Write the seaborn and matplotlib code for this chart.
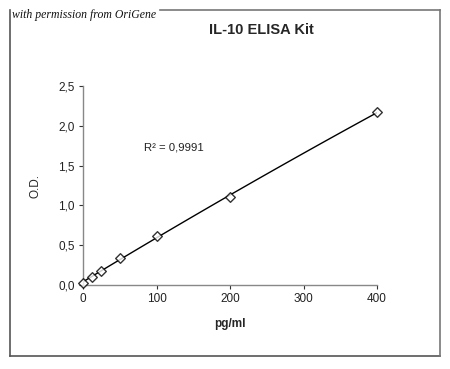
import matplotlib
matplotlib.use("Agg")
import matplotlib.pyplot as plt
import seaborn as sns
import numpy as np
import pandas as pd
from matplotlib.lines import Line2D
from matplotlib.ticker import FuncFormatter

conc = [0, 12.5, 25, 50, 100, 200, 400]
od = [0.025, 0.10, 0.18, 0.34, 0.615, 1.105, 2.17]
x_ticks = [0, 100, 200, 300, 400]
y_ticks = [0.0, 0.5, 1.0, 1.5, 2.0, 2.5]
title = "IL-10 ELISA Kit"
credit = "with permission from OriGene"
r2_text = "R\u00b2 = 0,9991"

df = pd.DataFrame({"pg/ml": conc, "O.D.": od})

sns.set_style("white")
plt.rcParams['font.family'] = ['Liberation Sans', 'DejaVu Sans']

W, H = 450, 369
fig = plt.figure(figsize=(4.5, 3.69), dpi=100)
fig.patch.set_facecolor("white")

def fline(xs, ys, color="#555555", lw=1.2):
    fig.lines.append(Line2D([x / W for x in xs], [1 - y / H for y in ys],
                            transform=fig.transFigure, color=color, linewidth=lw,
                            solid_capstyle="projecting"))

# outer frame (top edge interrupted by the credit text)
fline([10, 10], [10, 356])
fline([10, 440], [356, 356])
fline([440, 440], [10, 356], color="#777777")
fline([160, 440], [10, 10], color="#777777")

ax = fig.add_axes([83/W, 1-285/H, 294/W, 199/H])

sns.regplot(data=df, x="pg/ml", y="O.D.", order=2, ci=None, ax=ax,
            marker="D",
            scatter_kws=dict(s=24, facecolors="white", edgecolors="black", linewidths=1.0, zorder=3),
            line_kws=dict(color="black", linewidth=1.0))

ax.set_xlim(0, 400)
ax.set_ylim(0, 2.5)
ax.set_xticks(x_ticks)
ax.set_yticks(y_ticks)
ax.yaxis.set_major_formatter(FuncFormatter(lambda v, p: f"{v:.1f}".replace(".", ",")))
ax.tick_params(axis="both", labelsize=8.5, colors="#333333", length=3, width=0.8, direction="out",
               bottom=True, left=True, pad=3)
ax.tick_params(axis="both", labelcolor="#222222")
for s in ["top", "right"]:
    ax.spines[s].set_visible(False)
for s in ["left", "bottom"]:
    ax.spines[s].set_color("#888888")
    ax.spines[s].set_linewidth(1.0)
ax.patch.set_alpha(0)
ax.set_xlabel("pg/ml", fontsize=8.5, fontweight="bold", labelpad=9)
ax.set_ylabel("O.D.", fontsize=8.5, labelpad=12)
for c in ax.collections:
    c.set_clip_on(False)

fig.text(261/W, 1-30/H, title, fontsize=10.5, fontweight="bold", ha="center", va="center")
fig.text(12/W, 1-15/H, credit, fontsize=8.5, style="italic", family=["Liberation Serif"],
         ha="left", va="center", color="#111111")
ax.text(144/W, 1-148/H, r2_text, transform=fig.transFigure, fontsize=8.2, ha="left", va="center",
        color="#222222")

fig.savefig("out.png", dpi=100)
